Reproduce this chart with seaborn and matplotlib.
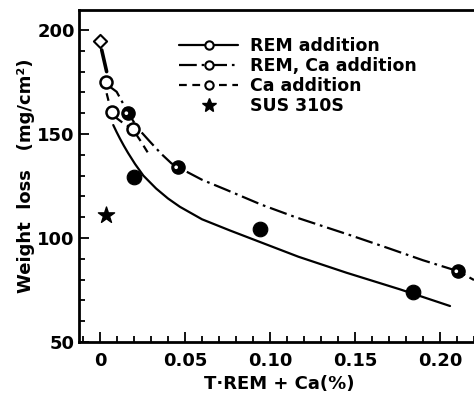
import numpy as np
import pandas as pd
import matplotlib
matplotlib.use("Agg")
import matplotlib.pyplot as plt
from matplotlib.lines import Line2D
from matplotlib.ticker import MultipleLocator, FixedLocator
import seaborn as sns

# --- measured points -------------------------------------------------------
base_x = [0.0]                       # base steel (no addition)
base_y = [194.5]

open_x = [0.0033, 0.0069, 0.0192]    # Ca addition / low-REM specimens
open_y = [174.8, 160.4, 152.4]

half_x = [0.0167, 0.046, 0.2108]     # REM + Ca addition
half_y = [160.0, 134.0, 84.0]

full_x = [0.0202, 0.094, 0.184]      # REM addition
full_y = [129.5, 104.3, 74.2]

sus_x = [0.0035]                     # SUS 310S reference steel
sus_y = [111.0]

# --- fitted trend lines ----------------------------------------------------
rem_x = [0.0078, 0.0098, 0.0118, 0.0140, 0.0165, 0.0206, 0.0255, 0.0330,
         0.0400, 0.0470, 0.0600, 0.0765, 0.0950, 0.1167, 0.1450, 0.1765,
         0.2059]
rem_y = [154.3, 150.9, 147.7, 144.4, 140.9, 135.6, 130.0, 123.8,
         119.0, 115.0, 109.0, 103.6, 97.8, 91.0, 83.3, 75.3,
         67.3]

remca_x = [0.0040, 0.0070, 0.0098, 0.0130, 0.0167, 0.0220, 0.0294, 0.0360,
           0.0420, 0.0460, 0.0600, 0.0745, 0.0950, 0.1150, 0.1470, 0.1700,
           0.1900, 0.2108, 0.2200]
remca_y = [174.0, 172.0, 170.3, 165.5, 160.0, 153.0, 146.3, 140.5,
           135.9, 134.0, 128.0, 123.1, 116.0, 110.0, 101.4, 95.0,
           89.3, 84.0, 79.8]

ca_x = [0.0039, 0.0050, 0.0069, 0.0100, 0.0140, 0.0192, 0.0240, 0.0284]
ca_y = [169.6, 166.0, 160.4, 157.5, 155.0, 152.4, 146.5, 140.7]

stem_x = [0.0010, 0.0039]            # short segment leaving the base point
stem_y = [190.4, 180.0]

x_ticks = [0.0, 0.05, 0.10, 0.15, 0.20]
x_tick_labels = ["0", "0.05", "0.10", "0.15", "0.20"]
y_ticks = [50, 100, 150, 200]
y_tick_labels = ["50", "100", "150", "200"]

legend_labels = ["REM addition", "REM, Ca addition", "Ca addition", "SUS 310S"]

# --- figure ----------------------------------------------------------------
sns.set_style("white")
plt.rcParams["font.family"] = ["DejaVu Sans"]
plt.rcParams["font.weight"] = "bold"
plt.rcParams["text.color"] = "black"
plt.rcParams["axes.labelcolor"] = "black"
plt.rcParams["xtick.color"] = "black"
plt.rcParams["ytick.color"] = "black"

W, H = 474, 394
fig = plt.figure(figsize=(W / 100, H / 100), dpi=100)
ax = fig.add_axes([79 / W, (H - 342) / H, 400 / W, 332 / H])

lw = 1.6
solid = "-"
dashdot = (0, (8, 2.2, 1.2, 2.2))
dashed = (0, (3.5, 2.5))

def draw_line(xs, ys, ls, width=lw):
    sns.lineplot(x=xs, y=ys, sort=False, estimator=None, ax=ax,
                 color="black", linewidth=width, linestyle=ls, legend=False)

draw_line(rem_x, rem_y, solid)
draw_line(remca_x, remca_y, dashdot)
draw_line(ca_x, ca_y, dashed)
draw_line(stem_x, stem_y, solid, width=2.6)

# markers
sns.scatterplot(x=base_x, y=base_y, ax=ax, marker="D", s=45,
                facecolor="white", edgecolor="black", linewidth=1.5, zorder=5)
sns.scatterplot(x=open_x, y=open_y, ax=ax, marker="o", s=75,
                facecolor="white", edgecolor="black", linewidth=1.8, zorder=5)
sns.scatterplot(x=half_x, y=half_y, ax=ax, marker="o", s=90,
                color="black", edgecolor="black", linewidth=1, zorder=5)
sns.scatterplot(x=[v - 0.0012 for v in half_x], y=half_y, ax=ax, marker="o",
                s=7, color="white", edgecolor="none", zorder=6)
sns.scatterplot(x=full_x, y=full_y, ax=ax, marker="o", s=110,
                color="black", edgecolor="black", zorder=5)
sns.scatterplot(x=sus_x, y=sus_y, ax=ax, marker="*", s=150,
                color="black", edgecolor="black", zorder=5)

# axes
ax.set_xlim(-0.01235, -0.01235 + 400 / 1700)
ax.set_ylim(50, 200 + 20 / 2.08)
ax.xaxis.set_major_locator(FixedLocator(x_ticks))
ax.set_xticklabels(x_tick_labels)
ax.xaxis.set_minor_locator(MultipleLocator(0.01))
ax.yaxis.set_major_locator(FixedLocator(y_ticks))
ax.set_yticklabels(y_tick_labels)
ax.yaxis.set_minor_locator(MultipleLocator(10))
ax.tick_params(which="both", direction="in", color="black", width=1.3,
               labelsize=13, labelcolor="black", pad=7)
ax.tick_params(which="major", length=7, bottom=True, left=True)
ax.tick_params(which="minor", length=4, bottom=True, left=True)
ax.tick_params(axis="y", pad=3)
for side in ("left", "bottom", "top", "right"):
    ax.spines[side].set_visible(True)
    ax.spines[side].set_color("black")
    ax.spines[side].set_linewidth(2)

ax.set_xlabel("T·REM + Ca(%)", fontsize=13, fontweight="bold", labelpad=4,
              color="black")
ax.set_ylabel("Weight  loss   (mg/cm²)", fontsize=13, fontweight="bold",
              labelpad=2, color="black")

handles = [
    Line2D([], [], color="black", lw=lw, ls=solid, marker="o", ms=6,
           mfc="white", mec="black", mew=1.5),
    Line2D([], [], color="black", lw=lw, ls=dashdot, marker="o", ms=6,
           mfc="white", mec="black", mew=1.5),
    Line2D([], [], color="black", lw=lw, ls=dashed, marker="o", ms=6,
           mfc="white", mec="black", mew=1.5),
    Line2D([], [], color="black", lw=0, marker="*", ms=10,
           mfc="black", mec="black"),
]
leg = ax.legend(handles, legend_labels, loc="upper left",
                bbox_to_anchor=(179 / W, (H - 37) / H),
                bbox_transform=fig.transFigure, frameon=False,
                fontsize=12.5, handlelength=3.4, handletextpad=0.7,
                labelspacing=0.12, borderpad=0, borderaxespad=0)
for t in leg.get_texts():
    t.set_fontweight("bold")
    t.set_color("black")

fig.savefig("out.png", dpi=100)
